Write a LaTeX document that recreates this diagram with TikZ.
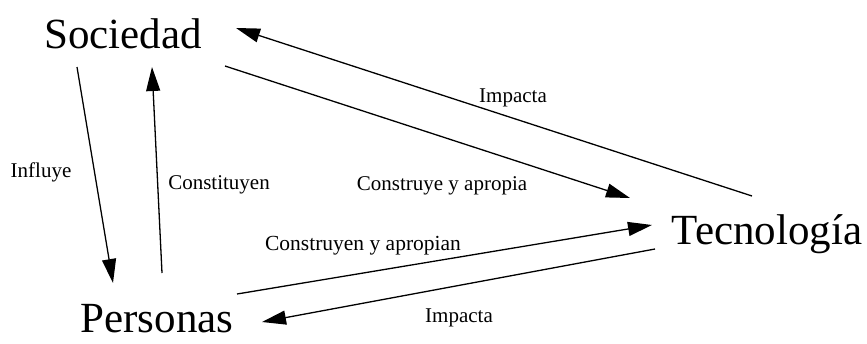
\documentclass[tikz,border=0pt]{standalone}
\usepackage{fontspec}
\setmainfont{Liberation Serif}
\usetikzlibrary{arrows.meta}
\begin{document}
\begin{tikzpicture}[x=1pt,y=-1pt,
  big/.style={font=\fontsize{43}{48}\selectfont, anchor=base, inner sep=0pt},
  lbl/.style={font=\fontsize{21}{24}\selectfont, anchor=base, inner sep=0pt},
  conn/.style={line width=1.3pt, -{Triangle[length=24pt,width=14pt]}}]
\useasboundingbox (0,0) rectangle (867,343);
\node[big] (soc) at (123,48) {Sociedad};
\node[big] (per) at (157,332.5) {Personas};
\node[big] (tec) at (767,244) {Tecnología};
\node[lbl] (l1) at (41,177) {Influye};
\node[lbl] (l2) at (219,189) {Constituyen};
\node[lbl] (l3) at (442,190) {Construye y apropia};
\node[lbl] (l4) at (513,102) {Impacta};
\node[lbl, font=\fontsize{21.5}{24}\selectfont] (l5) at (363,250) {Construyen y apropian};
\node[lbl] (l6) at (459,322) {Impacta};
\coordinate (a1s) at (77,67);   \coordinate (a1e) at (113,283);
\coordinate (a2s) at (162,273); \coordinate (a2e) at (152,67);
\coordinate (a3s) at (225,66);  \coordinate (a3e) at (630,198);
\coordinate (a4s) at (752,196); \coordinate (a4e) at (236,28);
\coordinate (a5s) at (237,294); \coordinate (a5e) at (652,225);
\coordinate (a6s) at (655,249); \coordinate (a6e) at (262,322);
\draw[conn] (a1s) -- (a1e);
\draw[conn] (a2s) -- (a2e);
\draw[conn] (a3s) -- (a3e);
\draw[conn] (a4s) -- (a4e);
\draw[conn] (a5s) -- (a5e);
\draw[conn] (a6s) -- (a6e);
\end{tikzpicture}
\end{document}
